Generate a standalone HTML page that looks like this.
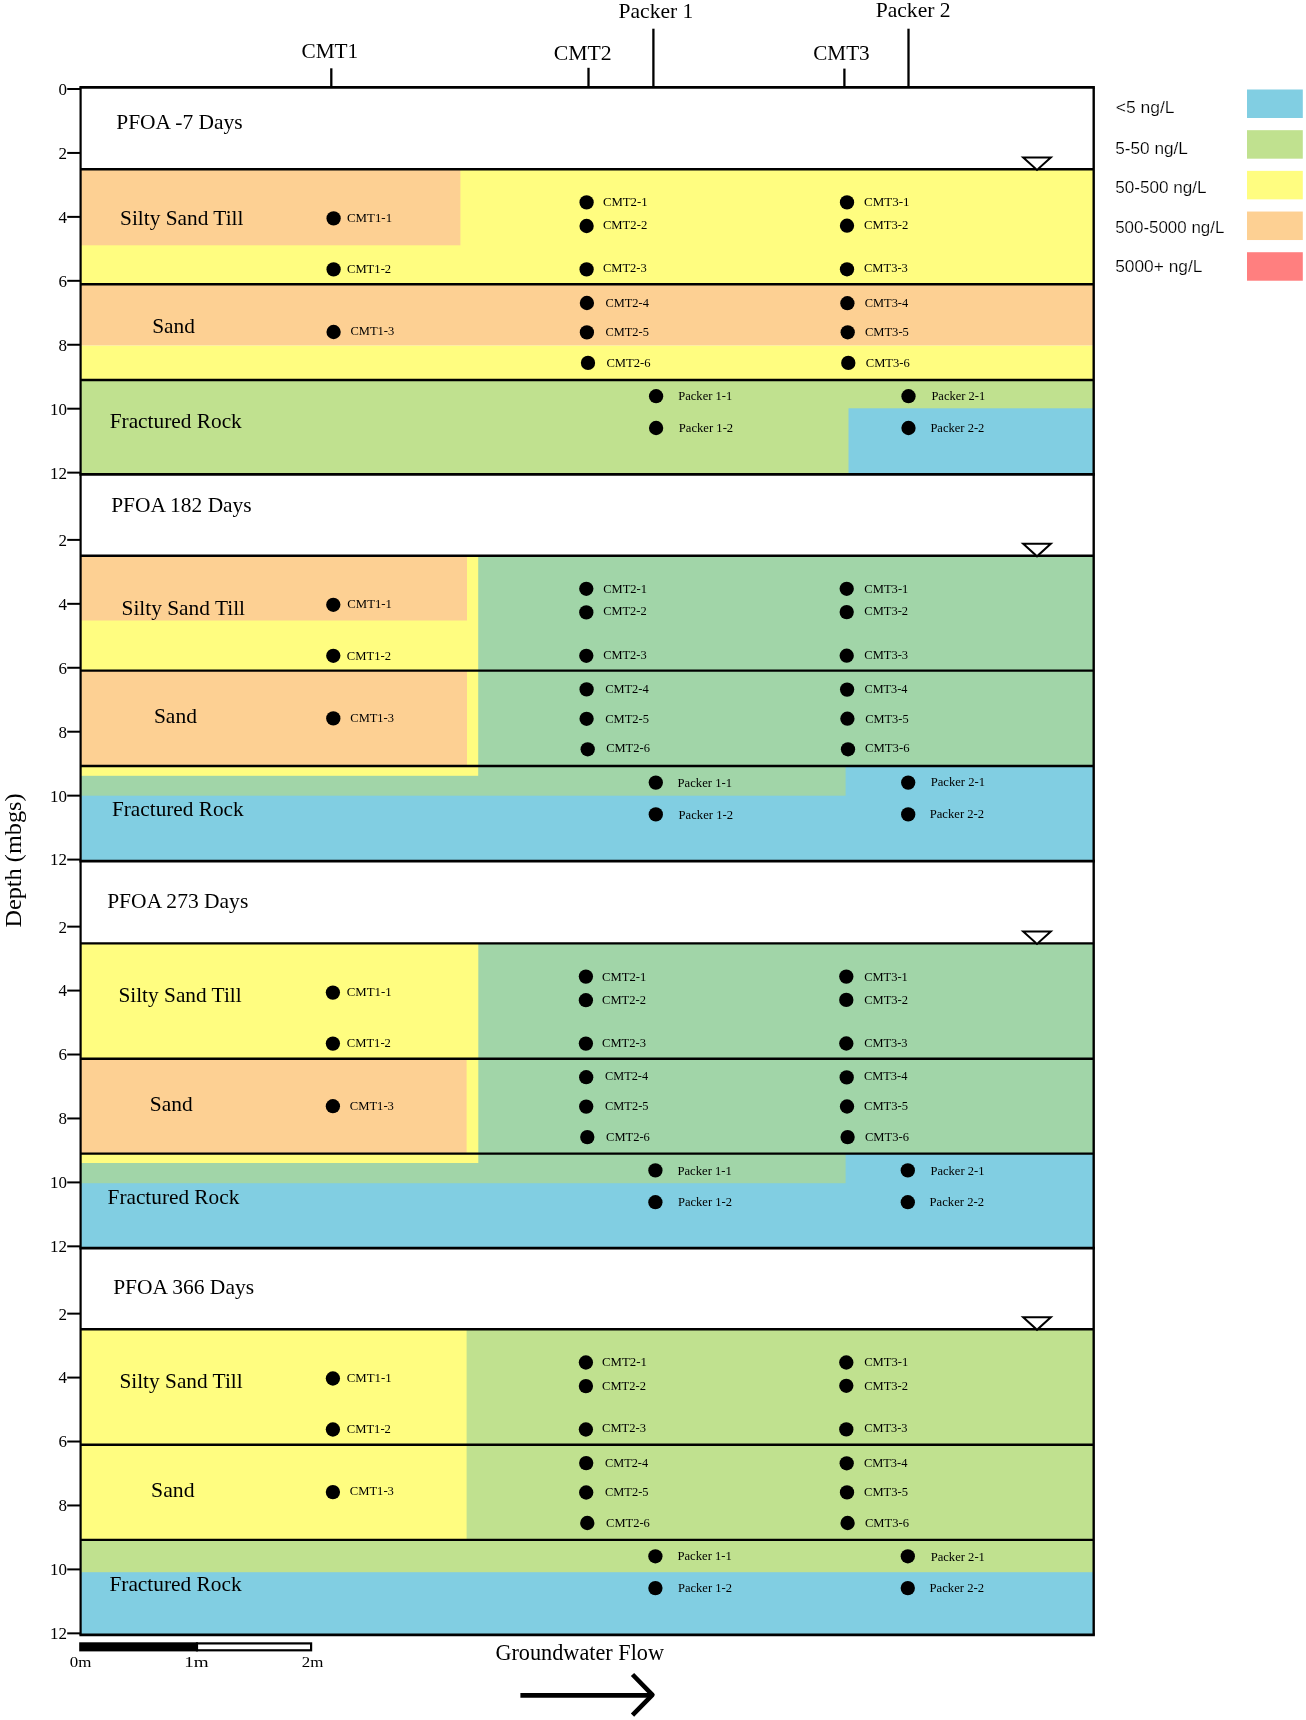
<!DOCTYPE html>
<html><head><meta charset="utf-8"><title>PFOA cross-sections</title><style>
html,body{margin:0;padding:0;background:#fff;}
svg{display:block;will-change:transform;}
text{fill:#000;}
</style></head><body>
<svg width="1306" height="1720" viewBox="0 0 1306 1720">
<rect x="0" y="0" width="1306" height="1720" fill="#fff"/>
<rect x="80.60" y="169.30" width="1013.10" height="114.90" fill="#FFFD80"/>
<rect x="80.60" y="169.30" width="379.80" height="76.00" fill="#FDD093"/>
<rect x="80.60" y="284.20" width="1013.10" height="61.40" fill="#FDD093"/>
<rect x="80.60" y="345.60" width="1013.10" height="34.40" fill="#FFFD80"/>
<rect x="80.60" y="380.00" width="1013.10" height="94.35" fill="#C0E18F"/>
<rect x="848.50" y="408.30" width="245.20" height="66.05" fill="#81CEE2"/>
<rect x="80.60" y="555.70" width="1013.10" height="210.30" fill="#A1D5A8"/>
<rect x="80.60" y="555.70" width="397.60" height="210.30" fill="#FFFD80"/>
<rect x="80.60" y="555.70" width="386.40" height="64.80" fill="#FDD093"/>
<rect x="80.60" y="670.60" width="386.40" height="95.40" fill="#FDD093"/>
<rect x="80.60" y="766.00" width="1013.10" height="95.10" fill="#81CEE2"/>
<rect x="80.60" y="766.00" width="765.00" height="29.70" fill="#A1D5A8"/>
<rect x="80.60" y="766.00" width="397.60" height="9.80" fill="#FFFD80"/>
<rect x="80.60" y="943.40" width="1013.10" height="210.20" fill="#A1D5A8"/>
<rect x="80.60" y="943.40" width="397.70" height="210.20" fill="#FFFD80"/>
<rect x="80.60" y="1058.70" width="386.00" height="94.90" fill="#FDD093"/>
<rect x="80.60" y="1153.60" width="1013.10" height="94.50" fill="#81CEE2"/>
<rect x="80.60" y="1153.60" width="765.00" height="29.60" fill="#A1D5A8"/>
<rect x="80.60" y="1153.60" width="397.70" height="9.40" fill="#FFFD80"/>
<rect x="80.60" y="1329.20" width="1013.10" height="210.70" fill="#C0E18F"/>
<rect x="80.60" y="1329.20" width="386.00" height="210.70" fill="#FFFD80"/>
<rect x="80.60" y="1539.90" width="1013.10" height="94.90" fill="#81CEE2"/>
<rect x="80.60" y="1539.90" width="1013.10" height="32.30" fill="#C0E18F"/>
<line x1="80.60" y1="169.30" x2="1093.70" y2="169.30" stroke="#000" stroke-width="2.4"/>
<line x1="80.60" y1="284.20" x2="1093.70" y2="284.20" stroke="#000" stroke-width="2.4"/>
<line x1="80.60" y1="380.00" x2="1093.70" y2="380.00" stroke="#000" stroke-width="2.4"/>
<line x1="80.60" y1="555.70" x2="1093.70" y2="555.70" stroke="#000" stroke-width="2.4"/>
<line x1="80.60" y1="670.60" x2="1093.70" y2="670.60" stroke="#000" stroke-width="2.4"/>
<line x1="80.60" y1="766.00" x2="1093.70" y2="766.00" stroke="#000" stroke-width="2.4"/>
<line x1="80.60" y1="943.40" x2="1093.70" y2="943.40" stroke="#000" stroke-width="2.4"/>
<line x1="80.60" y1="1058.70" x2="1093.70" y2="1058.70" stroke="#000" stroke-width="2.4"/>
<line x1="80.60" y1="1153.60" x2="1093.70" y2="1153.60" stroke="#000" stroke-width="2.4"/>
<line x1="80.60" y1="1329.20" x2="1093.70" y2="1329.20" stroke="#000" stroke-width="2.4"/>
<line x1="80.60" y1="1444.70" x2="1093.70" y2="1444.70" stroke="#000" stroke-width="2.4"/>
<line x1="80.60" y1="1539.90" x2="1093.70" y2="1539.90" stroke="#000" stroke-width="2.4"/>
<line x1="79.40" y1="87.40" x2="1094.90" y2="87.40" stroke="#000" stroke-width="2.7"/>
<line x1="79.40" y1="474.35" x2="1094.90" y2="474.35" stroke="#000" stroke-width="2.7"/>
<line x1="79.40" y1="861.10" x2="1094.90" y2="861.10" stroke="#000" stroke-width="2.7"/>
<line x1="79.40" y1="1248.10" x2="1094.90" y2="1248.10" stroke="#000" stroke-width="2.7"/>
<line x1="79.40" y1="1634.80" x2="1094.90" y2="1634.80" stroke="#000" stroke-width="2.7"/>
<line x1="80.60" y1="87.40" x2="80.60" y2="1634.80" stroke="#000" stroke-width="2.2"/>
<line x1="1093.70" y1="87.40" x2="1093.70" y2="1634.80" stroke="#000" stroke-width="2.4"/>
<path d="M1023.2,157.40 L1050.8,157.40 L1037,169.90 Z" fill="#fff" stroke="#000" stroke-width="2"/>
<path d="M1023.2,543.80 L1050.8,543.80 L1037,556.30 Z" fill="#fff" stroke="#000" stroke-width="2"/>
<path d="M1023.2,931.50 L1050.8,931.50 L1037,944.00 Z" fill="#fff" stroke="#000" stroke-width="2"/>
<path d="M1023.2,1317.30 L1050.8,1317.30 L1037,1329.80 Z" fill="#fff" stroke="#000" stroke-width="2"/>
<circle cx="333.60" cy="218.40" r="7.15" fill="#000"/>
<circle cx="333.60" cy="269.40" r="7.15" fill="#000"/>
<circle cx="333.60" cy="332.00" r="7.15" fill="#000"/>
<circle cx="586.60" cy="202.40" r="7.15" fill="#000"/>
<circle cx="586.60" cy="226.00" r="7.15" fill="#000"/>
<circle cx="586.60" cy="269.40" r="7.15" fill="#000"/>
<circle cx="586.90" cy="303.00" r="7.15" fill="#000"/>
<circle cx="586.90" cy="332.40" r="7.15" fill="#000"/>
<circle cx="588.00" cy="362.90" r="7.15" fill="#000"/>
<circle cx="847.00" cy="202.40" r="7.15" fill="#000"/>
<circle cx="847.00" cy="225.70" r="7.15" fill="#000"/>
<circle cx="847.00" cy="269.30" r="7.15" fill="#000"/>
<circle cx="847.40" cy="303.20" r="7.15" fill="#000"/>
<circle cx="847.70" cy="332.30" r="7.15" fill="#000"/>
<circle cx="848.30" cy="362.90" r="7.15" fill="#000"/>
<circle cx="656.10" cy="396.20" r="7.15" fill="#000"/>
<circle cx="656.10" cy="428.00" r="7.15" fill="#000"/>
<circle cx="908.50" cy="396.20" r="7.15" fill="#000"/>
<circle cx="908.50" cy="428.00" r="7.15" fill="#000"/>
<circle cx="333.30" cy="604.80" r="7.15" fill="#000"/>
<circle cx="333.30" cy="655.80" r="7.15" fill="#000"/>
<circle cx="333.30" cy="718.40" r="7.15" fill="#000"/>
<circle cx="586.30" cy="588.80" r="7.15" fill="#000"/>
<circle cx="586.30" cy="612.40" r="7.15" fill="#000"/>
<circle cx="586.30" cy="655.80" r="7.15" fill="#000"/>
<circle cx="586.60" cy="689.40" r="7.15" fill="#000"/>
<circle cx="586.60" cy="718.80" r="7.15" fill="#000"/>
<circle cx="587.70" cy="749.30" r="7.15" fill="#000"/>
<circle cx="846.70" cy="588.80" r="7.15" fill="#000"/>
<circle cx="846.70" cy="612.10" r="7.15" fill="#000"/>
<circle cx="846.70" cy="655.70" r="7.15" fill="#000"/>
<circle cx="847.10" cy="689.60" r="7.15" fill="#000"/>
<circle cx="847.40" cy="718.70" r="7.15" fill="#000"/>
<circle cx="848.00" cy="749.30" r="7.15" fill="#000"/>
<circle cx="655.80" cy="782.60" r="7.15" fill="#000"/>
<circle cx="655.80" cy="814.40" r="7.15" fill="#000"/>
<circle cx="908.20" cy="782.60" r="7.15" fill="#000"/>
<circle cx="908.20" cy="814.40" r="7.15" fill="#000"/>
<circle cx="332.90" cy="992.60" r="7.15" fill="#000"/>
<circle cx="332.90" cy="1043.60" r="7.15" fill="#000"/>
<circle cx="332.90" cy="1106.20" r="7.15" fill="#000"/>
<circle cx="585.90" cy="976.60" r="7.15" fill="#000"/>
<circle cx="585.90" cy="1000.20" r="7.15" fill="#000"/>
<circle cx="585.90" cy="1043.60" r="7.15" fill="#000"/>
<circle cx="586.20" cy="1077.20" r="7.15" fill="#000"/>
<circle cx="586.20" cy="1106.60" r="7.15" fill="#000"/>
<circle cx="587.30" cy="1137.10" r="7.15" fill="#000"/>
<circle cx="846.30" cy="976.60" r="7.15" fill="#000"/>
<circle cx="846.30" cy="999.90" r="7.15" fill="#000"/>
<circle cx="846.30" cy="1043.50" r="7.15" fill="#000"/>
<circle cx="846.70" cy="1077.40" r="7.15" fill="#000"/>
<circle cx="847.00" cy="1106.50" r="7.15" fill="#000"/>
<circle cx="847.60" cy="1137.10" r="7.15" fill="#000"/>
<circle cx="655.40" cy="1170.40" r="7.15" fill="#000"/>
<circle cx="655.40" cy="1202.20" r="7.15" fill="#000"/>
<circle cx="907.80" cy="1170.40" r="7.15" fill="#000"/>
<circle cx="907.80" cy="1202.20" r="7.15" fill="#000"/>
<circle cx="332.90" cy="1378.50" r="7.15" fill="#000"/>
<circle cx="332.90" cy="1429.50" r="7.15" fill="#000"/>
<circle cx="332.90" cy="1492.10" r="7.15" fill="#000"/>
<circle cx="585.90" cy="1362.50" r="7.15" fill="#000"/>
<circle cx="585.90" cy="1386.10" r="7.15" fill="#000"/>
<circle cx="585.90" cy="1429.50" r="7.15" fill="#000"/>
<circle cx="586.20" cy="1463.10" r="7.15" fill="#000"/>
<circle cx="586.20" cy="1492.50" r="7.15" fill="#000"/>
<circle cx="587.30" cy="1523.00" r="7.15" fill="#000"/>
<circle cx="846.30" cy="1362.50" r="7.15" fill="#000"/>
<circle cx="846.30" cy="1385.80" r="7.15" fill="#000"/>
<circle cx="846.30" cy="1429.40" r="7.15" fill="#000"/>
<circle cx="846.70" cy="1463.30" r="7.15" fill="#000"/>
<circle cx="847.00" cy="1492.40" r="7.15" fill="#000"/>
<circle cx="847.60" cy="1523.00" r="7.15" fill="#000"/>
<circle cx="655.40" cy="1556.30" r="7.15" fill="#000"/>
<circle cx="655.40" cy="1588.10" r="7.15" fill="#000"/>
<circle cx="907.80" cy="1556.30" r="7.15" fill="#000"/>
<circle cx="907.80" cy="1588.10" r="7.15" fill="#000"/>
<line x1="67.20" y1="89.00" x2="80.60" y2="89.00" stroke="#000" stroke-width="2.0"/>
<text x="67.00" y="94.90" font-family="'Liberation Serif', serif" font-size="17" text-anchor="end">0</text>
<line x1="67.20" y1="152.94" x2="80.60" y2="152.94" stroke="#000" stroke-width="2.0"/>
<text x="67.00" y="158.84" font-family="'Liberation Serif', serif" font-size="17" text-anchor="end">2</text>
<line x1="67.20" y1="216.88" x2="80.60" y2="216.88" stroke="#000" stroke-width="2.0"/>
<text x="67.00" y="222.78" font-family="'Liberation Serif', serif" font-size="17" text-anchor="end">4</text>
<line x1="67.20" y1="280.82" x2="80.60" y2="280.82" stroke="#000" stroke-width="2.0"/>
<text x="67.00" y="286.72" font-family="'Liberation Serif', serif" font-size="17" text-anchor="end">6</text>
<line x1="67.20" y1="344.76" x2="80.60" y2="344.76" stroke="#000" stroke-width="2.0"/>
<text x="67.00" y="350.66" font-family="'Liberation Serif', serif" font-size="17" text-anchor="end">8</text>
<line x1="67.20" y1="408.70" x2="80.60" y2="408.70" stroke="#000" stroke-width="2.0"/>
<text x="67.00" y="414.60" font-family="'Liberation Serif', serif" font-size="17" text-anchor="end">10</text>
<line x1="67.20" y1="472.64" x2="80.60" y2="472.64" stroke="#000" stroke-width="2.0"/>
<text x="67.00" y="478.54" font-family="'Liberation Serif', serif" font-size="17" text-anchor="end">12</text>
<line x1="67.20" y1="539.89" x2="80.60" y2="539.89" stroke="#000" stroke-width="2.0"/>
<text x="67.00" y="545.79" font-family="'Liberation Serif', serif" font-size="17" text-anchor="end">2</text>
<line x1="67.20" y1="603.83" x2="80.60" y2="603.83" stroke="#000" stroke-width="2.0"/>
<text x="67.00" y="609.73" font-family="'Liberation Serif', serif" font-size="17" text-anchor="end">4</text>
<line x1="67.20" y1="667.77" x2="80.60" y2="667.77" stroke="#000" stroke-width="2.0"/>
<text x="67.00" y="673.67" font-family="'Liberation Serif', serif" font-size="17" text-anchor="end">6</text>
<line x1="67.20" y1="731.71" x2="80.60" y2="731.71" stroke="#000" stroke-width="2.0"/>
<text x="67.00" y="737.61" font-family="'Liberation Serif', serif" font-size="17" text-anchor="end">8</text>
<line x1="67.20" y1="795.65" x2="80.60" y2="795.65" stroke="#000" stroke-width="2.0"/>
<text x="67.00" y="801.55" font-family="'Liberation Serif', serif" font-size="17" text-anchor="end">10</text>
<line x1="67.20" y1="859.59" x2="80.60" y2="859.59" stroke="#000" stroke-width="2.0"/>
<text x="67.00" y="865.49" font-family="'Liberation Serif', serif" font-size="17" text-anchor="end">12</text>
<line x1="67.20" y1="926.64" x2="80.60" y2="926.64" stroke="#000" stroke-width="2.0"/>
<text x="67.00" y="932.54" font-family="'Liberation Serif', serif" font-size="17" text-anchor="end">2</text>
<line x1="67.20" y1="990.58" x2="80.60" y2="990.58" stroke="#000" stroke-width="2.0"/>
<text x="67.00" y="996.48" font-family="'Liberation Serif', serif" font-size="17" text-anchor="end">4</text>
<line x1="67.20" y1="1054.52" x2="80.60" y2="1054.52" stroke="#000" stroke-width="2.0"/>
<text x="67.00" y="1060.42" font-family="'Liberation Serif', serif" font-size="17" text-anchor="end">6</text>
<line x1="67.20" y1="1118.46" x2="80.60" y2="1118.46" stroke="#000" stroke-width="2.0"/>
<text x="67.00" y="1124.36" font-family="'Liberation Serif', serif" font-size="17" text-anchor="end">8</text>
<line x1="67.20" y1="1182.40" x2="80.60" y2="1182.40" stroke="#000" stroke-width="2.0"/>
<text x="67.00" y="1188.30" font-family="'Liberation Serif', serif" font-size="17" text-anchor="end">10</text>
<line x1="67.20" y1="1246.34" x2="80.60" y2="1246.34" stroke="#000" stroke-width="2.0"/>
<text x="67.00" y="1252.24" font-family="'Liberation Serif', serif" font-size="17" text-anchor="end">12</text>
<line x1="67.20" y1="1313.64" x2="80.60" y2="1313.64" stroke="#000" stroke-width="2.0"/>
<text x="67.00" y="1319.54" font-family="'Liberation Serif', serif" font-size="17" text-anchor="end">2</text>
<line x1="67.20" y1="1377.58" x2="80.60" y2="1377.58" stroke="#000" stroke-width="2.0"/>
<text x="67.00" y="1383.48" font-family="'Liberation Serif', serif" font-size="17" text-anchor="end">4</text>
<line x1="67.20" y1="1441.52" x2="80.60" y2="1441.52" stroke="#000" stroke-width="2.0"/>
<text x="67.00" y="1447.42" font-family="'Liberation Serif', serif" font-size="17" text-anchor="end">6</text>
<line x1="67.20" y1="1505.46" x2="80.60" y2="1505.46" stroke="#000" stroke-width="2.0"/>
<text x="67.00" y="1511.36" font-family="'Liberation Serif', serif" font-size="17" text-anchor="end">8</text>
<line x1="67.20" y1="1569.40" x2="80.60" y2="1569.40" stroke="#000" stroke-width="2.0"/>
<text x="67.00" y="1575.30" font-family="'Liberation Serif', serif" font-size="17" text-anchor="end">10</text>
<line x1="67.20" y1="1633.34" x2="80.60" y2="1633.34" stroke="#000" stroke-width="2.0"/>
<text x="67.00" y="1639.24" font-family="'Liberation Serif', serif" font-size="17" text-anchor="end">12</text>
<line x1="331.30" y1="68.30" x2="331.30" y2="87.40" stroke="#000" stroke-width="2.3"/>
<line x1="588.50" y1="67.80" x2="588.50" y2="87.40" stroke="#000" stroke-width="2.3"/>
<line x1="844.40" y1="68.60" x2="844.40" y2="87.40" stroke="#000" stroke-width="2.3"/>
<line x1="653.40" y1="28.70" x2="653.40" y2="87.40" stroke="#000" stroke-width="2.3"/>
<line x1="908.50" y1="28.70" x2="908.50" y2="87.40" stroke="#000" stroke-width="2.3"/>
<text x="116.24" y="129.46" font-family="'Liberation Serif', serif" font-size="22" textLength="126.36" lengthAdjust="spacingAndGlyphs">PFOA -7 Days</text>
<text x="120.08" y="224.56" font-family="'Liberation Serif', serif" font-size="22" textLength="123.36" lengthAdjust="spacingAndGlyphs">Silty Sand Till</text>
<text x="152.16" y="333.38" font-family="'Liberation Serif', serif" font-size="22" textLength="42.70" lengthAdjust="spacingAndGlyphs">Sand</text>
<text x="109.66" y="427.56" font-family="'Liberation Serif', serif" font-size="22" textLength="132.12" lengthAdjust="spacingAndGlyphs">Fractured Rock</text>
<text x="111.16" y="512.34" font-family="'Liberation Serif', serif" font-size="22" textLength="140.52" lengthAdjust="spacingAndGlyphs">PFOA 182 Days</text>
<text x="121.50" y="614.52" font-family="'Liberation Serif', serif" font-size="22" textLength="123.52" lengthAdjust="spacingAndGlyphs">Silty Sand Till</text>
<text x="153.92" y="722.50" font-family="'Liberation Serif', serif" font-size="22" textLength="43.02" lengthAdjust="spacingAndGlyphs">Sand</text>
<text x="111.98" y="816.38" font-family="'Liberation Serif', serif" font-size="22" textLength="131.64" lengthAdjust="spacingAndGlyphs">Fractured Rock</text>
<text x="107.16" y="908.34" font-family="'Liberation Serif', serif" font-size="22" textLength="141.10" lengthAdjust="spacingAndGlyphs">PFOA 273 Days</text>
<text x="118.42" y="1001.70" font-family="'Liberation Serif', serif" font-size="22" textLength="123.26" lengthAdjust="spacingAndGlyphs">Silty Sand Till</text>
<text x="149.74" y="1110.62" font-family="'Liberation Serif', serif" font-size="22" textLength="42.86" lengthAdjust="spacingAndGlyphs">Sand</text>
<text x="107.56" y="1203.56" font-family="'Liberation Serif', serif" font-size="22" textLength="131.72" lengthAdjust="spacingAndGlyphs">Fractured Rock</text>
<text x="113.16" y="1293.78" font-family="'Liberation Serif', serif" font-size="22" textLength="140.86" lengthAdjust="spacingAndGlyphs">PFOA 366 Days</text>
<text x="119.42" y="1387.62" font-family="'Liberation Serif', serif" font-size="22" textLength="123.26" lengthAdjust="spacingAndGlyphs">Silty Sand Till</text>
<text x="151.08" y="1497.00" font-family="'Liberation Serif', serif" font-size="22" textLength="43.44" lengthAdjust="spacingAndGlyphs">Sand</text>
<text x="109.40" y="1590.62" font-family="'Liberation Serif', serif" font-size="22" textLength="132.30" lengthAdjust="spacingAndGlyphs">Fractured Rock</text>
<text x="346.98" y="221.62" font-family="'Liberation Serif', serif" font-size="13.5" textLength="45.10" lengthAdjust="spacingAndGlyphs">CMT1-1</text>
<text x="346.98" y="272.56" font-family="'Liberation Serif', serif" font-size="13.5" textLength="44.20" lengthAdjust="spacingAndGlyphs">CMT1-2</text>
<text x="350.48" y="335.44" font-family="'Liberation Serif', serif" font-size="13.5" textLength="43.80" lengthAdjust="spacingAndGlyphs">CMT1-3</text>
<text x="602.90" y="206.44" font-family="'Liberation Serif', serif" font-size="13.5" textLength="44.76" lengthAdjust="spacingAndGlyphs">CMT2-1</text>
<text x="602.90" y="229.38" font-family="'Liberation Serif', serif" font-size="13.5" textLength="44.36" lengthAdjust="spacingAndGlyphs">CMT2-2</text>
<text x="602.90" y="272.44" font-family="'Liberation Serif', serif" font-size="13.5" textLength="43.86" lengthAdjust="spacingAndGlyphs">CMT2-3</text>
<text x="605.40" y="306.56" font-family="'Liberation Serif', serif" font-size="13.5" textLength="43.46" lengthAdjust="spacingAndGlyphs">CMT2-4</text>
<text x="605.40" y="336.00" font-family="'Liberation Serif', serif" font-size="13.5" textLength="43.46" lengthAdjust="spacingAndGlyphs">CMT2-5</text>
<text x="606.40" y="366.62" font-family="'Liberation Serif', serif" font-size="13.5" textLength="44.20" lengthAdjust="spacingAndGlyphs">CMT2-6</text>
<text x="863.98" y="206.44" font-family="'Liberation Serif', serif" font-size="13.5" textLength="45.60" lengthAdjust="spacingAndGlyphs">CMT3-1</text>
<text x="863.98" y="229.38" font-family="'Liberation Serif', serif" font-size="13.5" textLength="44.28" lengthAdjust="spacingAndGlyphs">CMT3-2</text>
<text x="863.98" y="272.44" font-family="'Liberation Serif', serif" font-size="13.5" textLength="43.88" lengthAdjust="spacingAndGlyphs">CMT3-3</text>
<text x="864.74" y="306.56" font-family="'Liberation Serif', serif" font-size="13.5" textLength="43.46" lengthAdjust="spacingAndGlyphs">CMT3-4</text>
<text x="864.90" y="336.00" font-family="'Liberation Serif', serif" font-size="13.5" textLength="43.96" lengthAdjust="spacingAndGlyphs">CMT3-5</text>
<text x="865.82" y="366.62" font-family="'Liberation Serif', serif" font-size="13.5" textLength="43.96" lengthAdjust="spacingAndGlyphs">CMT3-6</text>
<text x="678.24" y="400.44" font-family="'Liberation Serif', serif" font-size="13.5" textLength="54.02" lengthAdjust="spacingAndGlyphs">Packer 1-1</text>
<text x="678.82" y="431.56" font-family="'Liberation Serif', serif" font-size="13.5" textLength="54.36" lengthAdjust="spacingAndGlyphs">Packer 1-2</text>
<text x="931.40" y="400.38" font-family="'Liberation Serif', serif" font-size="13.5" textLength="53.76" lengthAdjust="spacingAndGlyphs">Packer 2-1</text>
<text x="930.40" y="431.62" font-family="'Liberation Serif', serif" font-size="13.5" textLength="53.96" lengthAdjust="spacingAndGlyphs">Packer 2-2</text>
<text x="347.32" y="608.38" font-family="'Liberation Serif', serif" font-size="13.5" textLength="44.60" lengthAdjust="spacingAndGlyphs">CMT1-1</text>
<text x="346.82" y="659.62" font-family="'Liberation Serif', serif" font-size="13.5" textLength="44.20" lengthAdjust="spacingAndGlyphs">CMT1-2</text>
<text x="350.32" y="722.00" font-family="'Liberation Serif', serif" font-size="13.5" textLength="43.70" lengthAdjust="spacingAndGlyphs">CMT1-3</text>
<text x="603.14" y="592.50" font-family="'Liberation Serif', serif" font-size="13.5" textLength="43.86" lengthAdjust="spacingAndGlyphs">CMT2-1</text>
<text x="603.14" y="615.44" font-family="'Liberation Serif', serif" font-size="13.5" textLength="43.46" lengthAdjust="spacingAndGlyphs">CMT2-2</text>
<text x="603.14" y="659.00" font-family="'Liberation Serif', serif" font-size="13.5" textLength="43.46" lengthAdjust="spacingAndGlyphs">CMT2-3</text>
<text x="605.14" y="692.62" font-family="'Liberation Serif', serif" font-size="13.5" textLength="43.56" lengthAdjust="spacingAndGlyphs">CMT2-4</text>
<text x="605.14" y="722.56" font-family="'Liberation Serif', serif" font-size="13.5" textLength="43.96" lengthAdjust="spacingAndGlyphs">CMT2-5</text>
<text x="606.14" y="752.38" font-family="'Liberation Serif', serif" font-size="13.5" textLength="43.80" lengthAdjust="spacingAndGlyphs">CMT2-6</text>
<text x="864.32" y="592.50" font-family="'Liberation Serif', serif" font-size="13.5" textLength="44.10" lengthAdjust="spacingAndGlyphs">CMT3-1</text>
<text x="864.32" y="615.44" font-family="'Liberation Serif', serif" font-size="13.5" textLength="43.78" lengthAdjust="spacingAndGlyphs">CMT3-2</text>
<text x="864.32" y="659.00" font-family="'Liberation Serif', serif" font-size="13.5" textLength="43.78" lengthAdjust="spacingAndGlyphs">CMT3-3</text>
<text x="864.48" y="692.62" font-family="'Liberation Serif', serif" font-size="13.5" textLength="42.96" lengthAdjust="spacingAndGlyphs">CMT3-4</text>
<text x="865.14" y="722.56" font-family="'Liberation Serif', serif" font-size="13.5" textLength="43.46" lengthAdjust="spacingAndGlyphs">CMT3-5</text>
<text x="865.06" y="752.38" font-family="'Liberation Serif', serif" font-size="13.5" textLength="44.46" lengthAdjust="spacingAndGlyphs">CMT3-6</text>
<text x="677.58" y="787.00" font-family="'Liberation Serif', serif" font-size="13.5" textLength="54.42" lengthAdjust="spacingAndGlyphs">Packer 1-1</text>
<text x="678.56" y="818.62" font-family="'Liberation Serif', serif" font-size="13.5" textLength="54.46" lengthAdjust="spacingAndGlyphs">Packer 1-2</text>
<text x="930.74" y="786.44" font-family="'Liberation Serif', serif" font-size="13.5" textLength="54.26" lengthAdjust="spacingAndGlyphs">Packer 2-1</text>
<text x="929.74" y="818.38" font-family="'Liberation Serif', serif" font-size="13.5" textLength="54.36" lengthAdjust="spacingAndGlyphs">Packer 2-2</text>
<text x="346.74" y="996.00" font-family="'Liberation Serif', serif" font-size="13.5" textLength="45.00" lengthAdjust="spacingAndGlyphs">CMT1-1</text>
<text x="346.74" y="1047.44" font-family="'Liberation Serif', serif" font-size="13.5" textLength="44.20" lengthAdjust="spacingAndGlyphs">CMT1-2</text>
<text x="349.74" y="1109.62" font-family="'Liberation Serif', serif" font-size="13.5" textLength="44.20" lengthAdjust="spacingAndGlyphs">CMT1-3</text>
<text x="602.06" y="980.62" font-family="'Liberation Serif', serif" font-size="13.5" textLength="44.36" lengthAdjust="spacingAndGlyphs">CMT2-1</text>
<text x="602.06" y="1003.56" font-family="'Liberation Serif', serif" font-size="13.5" textLength="43.96" lengthAdjust="spacingAndGlyphs">CMT2-2</text>
<text x="602.06" y="1046.62" font-family="'Liberation Serif', serif" font-size="13.5" textLength="43.96" lengthAdjust="spacingAndGlyphs">CMT2-3</text>
<text x="605.06" y="1080.44" font-family="'Liberation Serif', serif" font-size="13.5" textLength="43.06" lengthAdjust="spacingAndGlyphs">CMT2-4</text>
<text x="605.06" y="1110.38" font-family="'Liberation Serif', serif" font-size="13.5" textLength="43.46" lengthAdjust="spacingAndGlyphs">CMT2-5</text>
<text x="606.06" y="1140.50" font-family="'Liberation Serif', serif" font-size="13.5" textLength="43.80" lengthAdjust="spacingAndGlyphs">CMT2-6</text>
<text x="864.14" y="980.62" font-family="'Liberation Serif', serif" font-size="13.5" textLength="43.70" lengthAdjust="spacingAndGlyphs">CMT3-1</text>
<text x="864.14" y="1003.56" font-family="'Liberation Serif', serif" font-size="13.5" textLength="43.88" lengthAdjust="spacingAndGlyphs">CMT3-2</text>
<text x="864.14" y="1046.62" font-family="'Liberation Serif', serif" font-size="13.5" textLength="43.38" lengthAdjust="spacingAndGlyphs">CMT3-3</text>
<text x="863.90" y="1080.44" font-family="'Liberation Serif', serif" font-size="13.5" textLength="43.46" lengthAdjust="spacingAndGlyphs">CMT3-4</text>
<text x="864.06" y="1110.38" font-family="'Liberation Serif', serif" font-size="13.5" textLength="43.96" lengthAdjust="spacingAndGlyphs">CMT3-5</text>
<text x="864.98" y="1140.50" font-family="'Liberation Serif', serif" font-size="13.5" textLength="43.96" lengthAdjust="spacingAndGlyphs">CMT3-6</text>
<text x="677.40" y="1174.62" font-family="'Liberation Serif', serif" font-size="13.5" textLength="54.52" lengthAdjust="spacingAndGlyphs">Packer 1-1</text>
<text x="677.98" y="1206.44" font-family="'Liberation Serif', serif" font-size="13.5" textLength="53.96" lengthAdjust="spacingAndGlyphs">Packer 1-2</text>
<text x="930.56" y="1174.56" font-family="'Liberation Serif', serif" font-size="13.5" textLength="53.86" lengthAdjust="spacingAndGlyphs">Packer 2-1</text>
<text x="929.56" y="1206.00" font-family="'Liberation Serif', serif" font-size="13.5" textLength="54.46" lengthAdjust="spacingAndGlyphs">Packer 2-2</text>
<text x="346.74" y="1381.56" font-family="'Liberation Serif', serif" font-size="13.5" textLength="45.00" lengthAdjust="spacingAndGlyphs">CMT1-1</text>
<text x="346.74" y="1433.00" font-family="'Liberation Serif', serif" font-size="13.5" textLength="44.20" lengthAdjust="spacingAndGlyphs">CMT1-2</text>
<text x="349.74" y="1495.38" font-family="'Liberation Serif', serif" font-size="13.5" textLength="44.20" lengthAdjust="spacingAndGlyphs">CMT1-3</text>
<text x="602.06" y="1366.38" font-family="'Liberation Serif', serif" font-size="13.5" textLength="44.86" lengthAdjust="spacingAndGlyphs">CMT2-1</text>
<text x="602.06" y="1389.62" font-family="'Liberation Serif', serif" font-size="13.5" textLength="43.96" lengthAdjust="spacingAndGlyphs">CMT2-2</text>
<text x="602.06" y="1432.38" font-family="'Liberation Serif', serif" font-size="13.5" textLength="43.96" lengthAdjust="spacingAndGlyphs">CMT2-3</text>
<text x="605.06" y="1466.50" font-family="'Liberation Serif', serif" font-size="13.5" textLength="43.06" lengthAdjust="spacingAndGlyphs">CMT2-4</text>
<text x="605.06" y="1496.44" font-family="'Liberation Serif', serif" font-size="13.5" textLength="43.46" lengthAdjust="spacingAndGlyphs">CMT2-5</text>
<text x="606.06" y="1526.56" font-family="'Liberation Serif', serif" font-size="13.5" textLength="43.80" lengthAdjust="spacingAndGlyphs">CMT2-6</text>
<text x="864.14" y="1366.38" font-family="'Liberation Serif', serif" font-size="13.5" textLength="44.20" lengthAdjust="spacingAndGlyphs">CMT3-1</text>
<text x="864.14" y="1389.62" font-family="'Liberation Serif', serif" font-size="13.5" textLength="43.88" lengthAdjust="spacingAndGlyphs">CMT3-2</text>
<text x="864.14" y="1432.38" font-family="'Liberation Serif', serif" font-size="13.5" textLength="43.38" lengthAdjust="spacingAndGlyphs">CMT3-3</text>
<text x="863.90" y="1466.50" font-family="'Liberation Serif', serif" font-size="13.5" textLength="43.46" lengthAdjust="spacingAndGlyphs">CMT3-4</text>
<text x="864.06" y="1496.44" font-family="'Liberation Serif', serif" font-size="13.5" textLength="43.96" lengthAdjust="spacingAndGlyphs">CMT3-5</text>
<text x="864.98" y="1526.56" font-family="'Liberation Serif', serif" font-size="13.5" textLength="43.96" lengthAdjust="spacingAndGlyphs">CMT3-6</text>
<text x="677.40" y="1560.38" font-family="'Liberation Serif', serif" font-size="13.5" textLength="54.52" lengthAdjust="spacingAndGlyphs">Packer 1-1</text>
<text x="677.98" y="1592.00" font-family="'Liberation Serif', serif" font-size="13.5" textLength="53.96" lengthAdjust="spacingAndGlyphs">Packer 1-2</text>
<text x="930.66" y="1560.62" font-family="'Liberation Serif', serif" font-size="13.5" textLength="54.26" lengthAdjust="spacingAndGlyphs">Packer 2-1</text>
<text x="929.56" y="1591.56" font-family="'Liberation Serif', serif" font-size="13.5" textLength="54.46" lengthAdjust="spacingAndGlyphs">Packer 2-2</text>
<text x="301.48" y="58.38" font-family="'Liberation Serif', serif" font-size="21" textLength="56.76" lengthAdjust="spacingAndGlyphs">CMT1</text>
<text x="553.74" y="59.62" font-family="'Liberation Serif', serif" font-size="21" textLength="58.02" lengthAdjust="spacingAndGlyphs">CMT2</text>
<text x="813.24" y="60.44" font-family="'Liberation Serif', serif" font-size="21" textLength="56.44" lengthAdjust="spacingAndGlyphs">CMT3</text>
<text x="618.58" y="18.44" font-family="'Liberation Serif', serif" font-size="21" textLength="74.74" lengthAdjust="spacingAndGlyphs">Packer 1</text>
<text x="875.66" y="17.44" font-family="'Liberation Serif', serif" font-size="21" textLength="75.02" lengthAdjust="spacingAndGlyphs">Packer 2</text>
<text x="495.40" y="1659.50" font-family="'Liberation Serif', serif" font-size="23" textLength="168.62" lengthAdjust="spacingAndGlyphs">Groundwater Flow</text>
<text x="69.74" y="1667.44" font-family="'Liberation Serif', serif" font-size="14.5" textLength="21.60" lengthAdjust="spacingAndGlyphs">0m</text>
<text x="184.26" y="1667.44" font-family="'Liberation Serif', serif" font-size="14.5" textLength="24.42" lengthAdjust="spacingAndGlyphs">1m</text>
<text x="301.74" y="1667.44" font-family="'Liberation Serif', serif" font-size="14.5" textLength="21.60" lengthAdjust="spacingAndGlyphs">2m</text>
<text x="1115.66" y="113.44" font-family="'Liberation Sans', sans-serif" font-size="16.5" textLength="58.94" lengthAdjust="spacingAndGlyphs" stroke="#fff" stroke-width="0.2">&lt;5 ng/L</text>
<text x="1115.16" y="153.50" font-family="'Liberation Sans', sans-serif" font-size="16.5" textLength="72.78" lengthAdjust="spacingAndGlyphs" stroke="#fff" stroke-width="0.2">5-50 ng/L</text>
<text x="1115.16" y="192.56" font-family="'Liberation Sans', sans-serif" font-size="16.5" textLength="91.44" lengthAdjust="spacingAndGlyphs" stroke="#fff" stroke-width="0.2">50-500 ng/L</text>
<text x="1115.16" y="232.62" font-family="'Liberation Sans', sans-serif" font-size="16.5" textLength="109.20" lengthAdjust="spacingAndGlyphs" stroke="#fff" stroke-width="0.2">500-5000 ng/L</text>
<text x="1115.16" y="272.38" font-family="'Liberation Sans', sans-serif" font-size="16.5" textLength="87.28" lengthAdjust="spacingAndGlyphs" stroke="#fff" stroke-width="0.2">5000+ ng/L</text>
<text transform="translate(20.6,927.6) rotate(-90)" font-family="'Liberation Serif', serif" font-size="24" textLength="134.2" lengthAdjust="spacingAndGlyphs">Depth (mbgs)</text>
<rect x="1247.00" y="89.50" width="55.80" height="28.50" fill="#81CEE2"/>
<rect x="1247.00" y="130.18" width="55.80" height="28.50" fill="#C0E18F"/>
<rect x="1247.00" y="170.86" width="55.80" height="28.50" fill="#FFFD80"/>
<rect x="1247.00" y="211.54" width="55.80" height="28.50" fill="#FDD093"/>
<rect x="1247.00" y="252.22" width="55.80" height="28.50" fill="#FF7F7F"/>
<rect x="79.20" y="1642.30" width="118.80" height="9.10" fill="#000"/>
<rect x="197.0" y="1643.4" width="114.1" height="6.9" fill="#fff" stroke="#000" stroke-width="2.2"/>
<line x1="520.40" y1="1695.40" x2="651.00" y2="1695.40" stroke="#000" stroke-width="4.6"/>
<polyline points="632.5,1674.5 652.4,1694.9 632.5,1715.2" fill="none" stroke="#000" stroke-width="4.6" stroke-linejoin="round"/>
</svg>
</body></html>
